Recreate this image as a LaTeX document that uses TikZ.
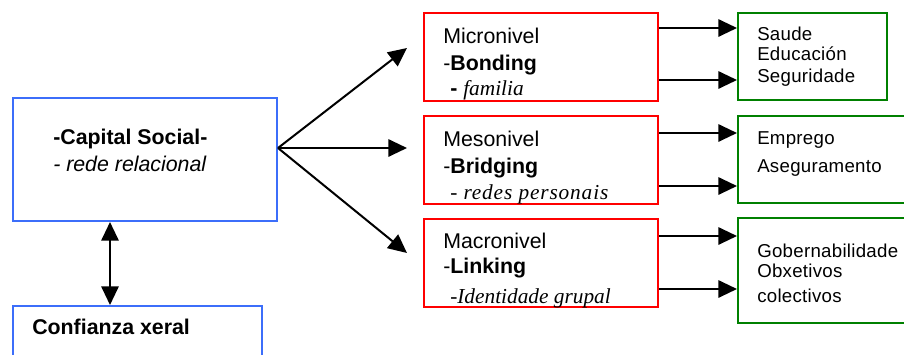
\documentclass[tikz,border=0pt]{standalone}
\usepackage{fontspec}
\setmainfont{Liberation Sans}
\newfontfamily\timesfont{Liberation Serif}
\usetikzlibrary{arrows.meta,positioning}
\definecolor{capblue}{RGB}{60,110,250}
\definecolor{outgreen}{RGB}{0,128,0}

\begin{document}
\begin{tikzpicture}[x=0.75pt, y=-0.75pt,
    box/.style={rectangle, draw, line width=1.5pt, fill=white, inner sep=0pt},
    capbox/.style={box, draw=capblue},
    levelbox/.style={box, draw=red, minimum width=175.5pt, minimum height=66pt},
    outbox/.style={box, draw=outgreen},
    txt/.style={anchor=base west, inner sep=0pt, font=\fontsize{16}{19}\selectfont},
    outtxt/.style={anchor=base west, inner sep=0pt, font=\fontsize{14}{16}\selectfont\addfontfeature{LetterSpace=1.5}},
    arrow/.style={-{Triangle[length=14pt,width=13pt]}, line width=1.5pt},
    doublearrow/.style={{Triangle[length=14pt,width=13pt]}-{Triangle[length=14pt,width=13pt]}, line width=1.5pt}
]
    \useasboundingbox (0,0) rectangle (904,354);

    % Capital social e confianza
    \node[capbox, minimum width=198pt, minimum height=92.25pt] (capital) at (145,159.5) {};
    \node[capbox, minimum width=186.75pt, minimum height=70.5pt] (confianza) at (137.5,353) {};
    \node[txt, font=\fontsize{16}{19}\selectfont\bfseries] (capital-1) at (53,144) {-Capital Social-};
    \node[txt, font=\fontsize{16}{19}\selectfont\itshape] (capital-2) at (53,171) {- rede relacional};
    \node[txt, font=\fontsize{16}{19}\selectfont\bfseries] (confianza-1) at (32,334) {Confianza xeral};

    % Niveis
    \node[levelbox] (micro) at (541,56.5) {};
    \node[levelbox] (meso) at (541,160) {};
    \node[levelbox] (macro) at (541,262.5) {};

    \node[txt] (micro-1) at (443,43) {Micronivel};
    \node[txt] (micro-2) at (443,70) {-\textbf{Bonding}};
    \node[txt] (micro-3) at (450,95) {\textbf{-} {\timesfont\itshape familia}};

    \node[txt] (meso-1) at (443,146) {Mesonivel};
    \node[txt] (meso-2) at (443,173) {-\textbf{Bridging}};
    \node[txt, font=\fontsize{16}{19}\timesfont\itshape\addfontfeature{LetterSpace=4}] (meso-3) at (450,199) {- redes  personais};

    \node[txt] (macro-1) at (443,248) {Macronivel};
    \node[txt] (macro-2) at (443,273) {-\textbf{Linking}};
    \node[txt, font=\fontsize{16}{19}\timesfont\itshape] (macro-3) at (450,303) {-Identidade grupal};

    % Resultados
    \node[outbox, minimum width=111.75pt, minimum height=65.25pt] (saude) at (812.5,56.5) {};
    \node[outbox, minimum width=133.5pt, minimum height=65.25pt] (emprego) at (827,159.5) {};
    \node[outbox, minimum width=133.5pt, minimum height=78.75pt] (goberno) at (827,270.5) {};

    \node[outtxt] (saude-1) at (757,40) {Saude};
    \node[outtxt] (saude-2) at (757,60) {Educación};
    \node[outtxt] (saude-3) at (757,82) {Seguridade};
    \node[outtxt] (emprego-1) at (757,144) {Emprego};
    \node[outtxt] (emprego-2) at (757,172) {Aseguramento};
    \node[outtxt] (goberno-1) at (757,257) {Gobernabilidade};
    \node[outtxt] (goberno-2) at (757,277) {Obxetivos};
    \node[outtxt] (goberno-3) at (757,302) {colectivos};

    % Frechas
    \coordinate (hub) at (capital.east |- 0,148);
    \coordinate (to-micro) at (407,48);
    \coordinate (to-meso) at (407,148);
    \coordinate (to-macro) at (407,253);
    \draw[arrow] (hub) -- (to-micro);
    \draw[arrow] (hub) -- (to-meso);
    \draw[arrow] (hub) -- (to-macro);

    \draw[doublearrow] (capital.south -| 110,0) -- (confianza.north -| 110,0);

    \draw[arrow] (micro.east |- 0,28) -- (saude.west |- 0,28);
    \draw[arrow] (micro.east |- 0,80) -- (saude.west |- 0,80);
    \draw[arrow] (meso.east |- 0,133) -- (emprego.west |- 0,133);
    \draw[arrow] (meso.east |- 0,186) -- (emprego.west |- 0,186);
    \draw[arrow] (macro.east |- 0,236) -- (goberno.west |- 0,236);
    \draw[arrow] (macro.east |- 0,289) -- (goberno.west |- 0,289);
\end{tikzpicture}
\end{document}
